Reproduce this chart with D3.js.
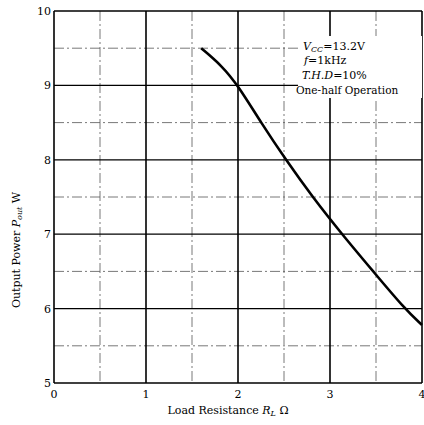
<!DOCTYPE html>
<html>
<head>
<meta charset="utf-8">
<script src="https://cdn.jsdelivr.net/npm/d3@7"></script>
<style>
  body { margin: 0; background: #fff; }
  svg { display: block; }
</style>
</head>
<body>
<svg id="chart" width="424" height="425"></svg>
<script>
// load resistance (ohm) vs output power (W)
var curveR = [1.6, 1.82, 2.0, 2.25, 2.52, 2.81, 3.13, 3.47, 3.81, 4.0];
var curveP = [9.5, 9.27, 9.0, 8.5, 8.0, 7.5, 7.0, 6.5, 6.0, 5.78];
var xTicks = [0, 1, 2, 3, 4];
var yTicks = [5, 6, 7, 8, 9, 10];
var xHalf = [0.5, 1.5, 2.5, 3.5];
var yHalf = [5.5, 6.5, 7.5, 8.5, 9.5];
var notes = ["V", "f=1kHz", "T.H.D=10%", "One-half Operation"];

var svg = d3.select('#chart'),
  width = 424, height = 425,
  margin = {top: 11, right: 2, bottom: 42, left: 54};

var x = d3.scaleLinear().domain([0, 4]).range([margin.left, width - margin.right]);
var y = d3.scaleLinear().domain([5, 10]).range([height - margin.bottom, margin.top]);

var font = "'DejaVu Serif', 'Liberation Serif', serif";

// half-unit dash-dot grid
svg.selectAll('.hx').data(xHalf).enter().append('line')
    .attr('x1', d => x(d)).attr('x2', d => x(d))
    .attr('y1', y(10)).attr('y2', y(5))
    .attr('stroke', '#555').attr('stroke-width', 0.8)
    .attr('stroke-dasharray', '10,3,2,3');
svg.selectAll('.hy').data(yHalf).enter().append('line')
    .attr('x1', x(0)).attr('x2', x(4))
    .attr('y1', d => y(d)).attr('y2', d => y(d))
    .attr('stroke', '#555').attr('stroke-width', 0.8)
    .attr('stroke-dasharray', '10,3,2,3');

// major grid
svg.selectAll('.gx').data(xTicks).enter().append('line')
    .attr('x1', d => x(d)).attr('x2', d => x(d))
    .attr('y1', y(10)).attr('y2', y(5))
    .attr('stroke', '#000').attr('stroke-width', 1.6);
svg.selectAll('.gy').data(yTicks).enter().append('line')
    .attr('x1', x(0)).attr('x2', x(4))
    .attr('y1', d => y(d)).attr('y2', d => y(d))
    .attr('stroke', '#000').attr('stroke-width', 1.3);

// note box (covers grid behind text)
svg.append('rect')
    .attr('x', 298).attr('y', 36).attr('width', 124).attr('height', 62)
    .attr('fill', '#fff');

// curve
var pts = curveR.map((r, i) => [r, curveP[i]]);
var line = d3.line().x(d => x(d[0])).y(d => y(d[1])).curve(d3.curveBasis);
svg.append('path').datum(pts)
    .attr('d', line)
    .attr('fill', 'none').attr('stroke', '#000').attr('stroke-width', 2.6);

// tick labels
svg.selectAll('.xl').data(xTicks).enter().append('text')
    .attr('x', d => x(d)).attr('y', y(5) + 15)
    .attr('text-anchor', 'middle')
    .attr('font-family', font).attr('font-size', 11)
    .text(d => d);
svg.selectAll('.yl').data(yTicks).enter().append('text')
    .attr('x', x(0) - 3).attr('y', d => y(d) + 4)
    .attr('text-anchor', 'end')
    .attr('font-family', font).attr('font-size', 11)
    .text(d => d);

// notes
var n = svg.append('g').attr('font-family', font).attr('font-size', 11);
var t0 = n.append('text').attr('x', 303).attr('y', 50);
t0.append('tspan').attr('font-style', 'italic').text('V');
t0.append('tspan').attr('font-size', 8).attr('dy', 2).attr('font-style', 'italic').text('CC');
t0.append('tspan').attr('dy', -2).text('=13.2V');
var t1 = n.append('text').attr('x', 304).attr('y', 64);
t1.append('tspan').attr('font-style', 'italic').text('f');
t1.append('tspan').text('=1kHz');
var t2 = n.append('text').attr('x', 302).attr('y', 79);
t2.append('tspan').attr('font-style', 'italic').text('T.H.D');
t2.append('tspan').text('=10%');
n.append('text').attr('x', 296).attr('y', 94).attr('font-size', 10.5).text(notes[3]);

// axis titles
var xt = svg.append('text')
    .attr('x', 228).attr('y', 414)
    .attr('text-anchor', 'middle')
    .attr('font-family', font).attr('font-size', 11);
xt.append('tspan').text('Load Resistance  ');
xt.append('tspan').attr('font-style', 'italic').text('R');
xt.append('tspan').attr('font-style', 'italic').attr('font-size', 8).attr('dy', 2).text('L');
xt.append('tspan').attr('dy', -2).text('  Ω');

var yt = svg.append('text')
    .attr('transform', 'translate(20,' + 250 + ') rotate(-90)')
    .attr('text-anchor', 'middle')
    .attr('font-family', font).attr('font-size', 11);
yt.append('tspan').text('Output Power  ');
yt.append('tspan').attr('font-style', 'italic').text('P');
yt.append('tspan').attr('font-style', 'italic').attr('font-size', 8).attr('dy', 2).text('out');
yt.append('tspan').attr('dy', -2).text('   W');
</script>
</body>
</html>
